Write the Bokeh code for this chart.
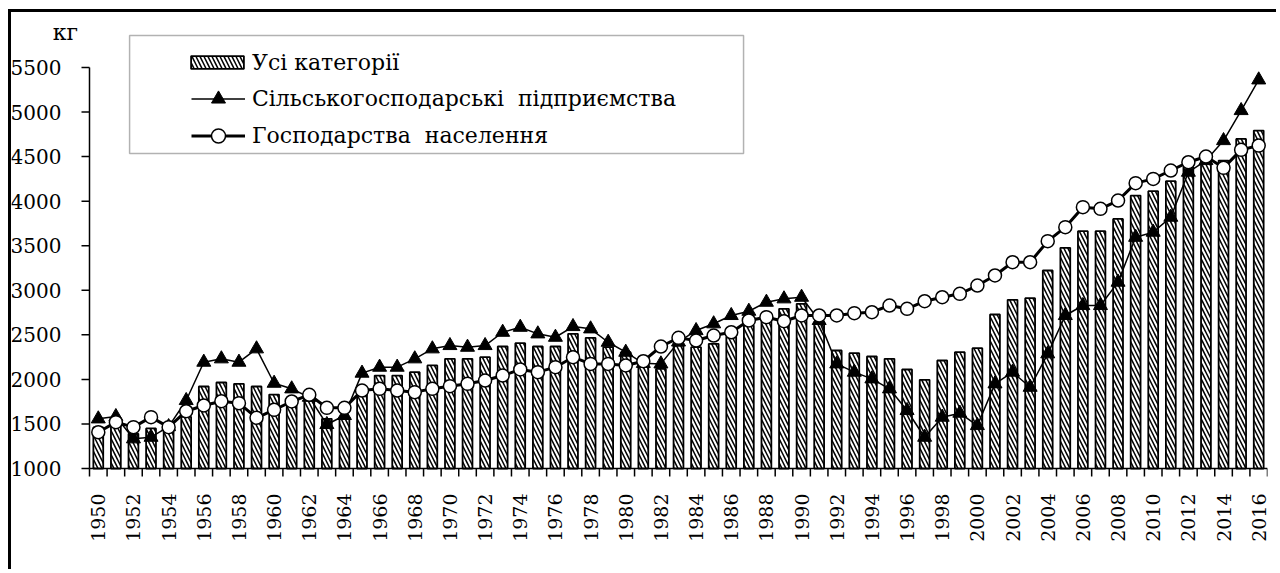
import math
from bokeh.plotting import figure
from bokeh.models import (Range1d, FixedTicker, Legend, LegendItem, Label,
                          BoxAnnotation, ColumnDataSource)
from bokeh.embed import file_html
from bokeh.resources import INLINE

# ---------------- data ----------------
years = list(range(1950, 2017))

all_categories = [
    1460, 1500, 1390, 1450, 1430, 1580, 1920, 1965, 1950, 1920,
    1830, 1780, 1770, 1557, 1576, 1912, 2043, 2043, 2081, 2157,
    2231, 2231, 2249, 2369, 2406, 2369, 2369, 2511, 2466, 2361,
    2305, 2156, 2118, 2380, 2361, 2399, 2473, 2605, 2661, 2792,
    2848, 2642, 2324, 2294, 2257, 2231, 2111, 1995, 2212, 2305,
    2350, 2728, 2893, 2911, 3222, 3476, 3663, 3663, 3801, 4063,
    4112, 4224, 4381, 4470, 4456, 4699, 4792]

agri_enterprises = [
    1557, 1583, 1333, 1351, 1470, 1763, 2193, 2231, 2193, 2343,
    1957, 1894, 1800, 1494, 1595, 2070, 2137, 2137, 2231, 2343,
    2380, 2361, 2380, 2529, 2585, 2511, 2473, 2593, 2567, 2417,
    2305, 2180, 2174, 2420, 2548, 2624, 2717, 2765, 2866, 2904,
    2922, 2661, 2174, 2081, 2006, 1894, 1651, 1351, 1576, 1621,
    1482, 1950, 2081, 1912, 2287, 2717, 2829, 2829, 3091, 3595,
    3652, 3820, 4325, 4456, 4680, 5017, 5361]

households = [
    1407, 1520, 1464, 1576, 1464, 1643, 1707, 1755, 1733, 1569,
    1658, 1752, 1827, 1681, 1681, 1875, 1894, 1875, 1857, 1894,
    1924, 1950, 1987, 2043, 2111, 2081, 2137, 2249, 2174, 2174,
    2156, 2204, 2369, 2466, 2436, 2492, 2529, 2661, 2698, 2653,
    2717, 2717, 2717, 2743, 2754, 2829, 2792, 2877, 2922, 2960,
    3053, 3166, 3315, 3315, 3551, 3708, 3933, 3914, 4007, 4202,
    4250, 4344, 4437, 4501, 4374, 4576, 4624]

y_ticks = [1000, 1500, 2000, 2500, 3000, 3500, 4000, 4500, 5000, 5500]
x_label_years = [y for y in years if y % 2 == 0]

label_all = "Усі категорії"
label_agri = "Сільськогосподарські  підприємства"
label_hh = "Господарства  населення"
unit_label = "кг"

FONT = "DejaVu Serif"
FS_XTICK = "19px"
FS_YTICK = "20px"
FS_LEG = "22px"
FS_UNIT = "22px"

# pixel scale of the reference: 4500 units over 401 px, 1 year over 17.582 px
KY = 401 / 4500
KX = 17.582

src = ColumnDataSource(dict(year=years, all=all_categories,
                            agri=agri_enterprises, hh=households))

X0 = years[0] - 0.5
X1 = years[-1] + 0.5
Y0 = y_ticks[0]
Y1 = y_ticks[-1]

p = figure(width=1268, height=560, output_backend="svg", toolbar_location=None,
           x_range=Range1d(X0 - 78 / KX, X1),
           y_range=Range1d(Y0 - 104 / KY, Y0 + 448 / KY),
           min_border_left=0, min_border_right=12, min_border_top=8,
           min_border_bottom=0)
p.styles = {"border-top": "3px solid black", "border-left": "3px solid black",
            "margin-top": "9px", "margin-left": "8px"}
p.outline_line_color = None
p.xgrid.visible = False
p.ygrid.visible = False
p.background_fill_color = "white"

# x axis (fixed at the bottom of the value scale)
xa = p.xaxis[0]
xa.fixed_location = Y0
xa.ticker = FixedTicker(ticks=x_label_years)
xa.bounds = (X0, X1)
xa.major_tick_line_color = None
xa.minor_tick_line_color = None
xa.axis_line_color = None
xa.major_tick_out = 8
xa.major_tick_in = 0
xa.major_label_orientation = math.pi / 2
xa.major_label_standoff = 17
xa.major_label_text_font = FONT
xa.major_label_text_font_size = FS_XTICK
xa.major_label_text_color = "black"

# y axis (fixed at the first category boundary)
ya = p.yaxis[0]
ya.fixed_location = X0
ya.ticker = FixedTicker(ticks=y_ticks)
ya.bounds = (Y0, Y1)
ya.major_tick_out = 8
ya.major_tick_in = 0
ya.minor_tick_line_color = None
ya.major_tick_line_color = None
ya.axis_line_color = None
ya.major_label_standoff = 20
ya.major_label_text_font = FONT
ya.major_label_text_font_size = FS_YTICK
ya.major_label_text_color = "black"

# axis rules and tick marks
p.segment(x0=[X0], y0=[Y0], x1=[X1], y1=[Y0], line_color="black", line_width=1.5)
p.segment(x0=[X0], y0=[Y0], x1=[X0], y1=[Y1], line_color="black", line_width=1.5)
xb = [y - 0.5 for y in years] + [X1]
p.segment(x0=xb, y0=[Y0] * len(xb), x1=xb, y1=[Y0 - 8 / KY] * len(xb),
          line_color="black", line_width=1.5)
p.segment(x0=[X0 - 8 / KX] * len(y_ticks), y0=y_ticks, x1=[X0] * len(y_ticks),
          y1=y_ticks, line_color="black", line_width=1.5)

bars = p.vbar(x="year", top="all", bottom=Y0, width=0.56, source=src,
              fill_color="white", line_color="black", line_width=1.8,
              hatch_pattern="\\", hatch_color="black", hatch_weight=1.5,
              hatch_scale=8)

l1 = p.line("year", "agri", source=src, line_color="black", line_width=1.5)
s1 = p.scatter("year", "agri", source=src, marker="triangle", size=14,
               fill_color="black", line_color="black")

l2 = p.line("year", "hh", source=src, line_color="black", line_width=3)
s2 = p.scatter("year", "hh", source=src, marker="circle", size=13,
               fill_color="white", line_color="black", line_width=1.5)

# legend offsets are measured from the frame's bottom-left corner
leg1 = Legend(items=[LegendItem(label=label_all, renderers=[bars])],
              location=(173, 495), glyph_width=66, glyph_height=16,
              label_height=30, label_standoff=2, padding=0, margin=0,
              border_line_color=None, background_fill_alpha=0,
              label_text_font=FONT, label_text_font_size=FS_LEG,
              label_text_color="black")
leg2 = Legend(items=[LegendItem(label=label_agri, renderers=[l1, s1]),
                     LegendItem(label=label_hh, renderers=[l2, s2])],
              location=(180, 419), glyph_width=54, glyph_height=35,
              label_height=30, spacing=2, label_standoff=7, padding=0,
              margin=0, border_line_color=None, background_fill_alpha=0,
              label_text_font=FONT, label_text_font_size=FS_LEG,
              label_text_color="black")
p.add_layout(leg1)
p.add_layout(leg2)

box = BoxAnnotation(left=1951.78, right=1986.70, top=5859, bottom=4535,
                    fill_color=None, fill_alpha=0, line_color="black",
                    line_width=1.5)
p.add_layout(box)

p.add_layout(Label(x=1948.13, y=5893, text=unit_label, text_align="center",
                   text_baseline="middle", text_font=FONT,
                   text_font_size=FS_UNIT, text_color="black"))

open("out.html", "w").write(file_html(p, INLINE))
